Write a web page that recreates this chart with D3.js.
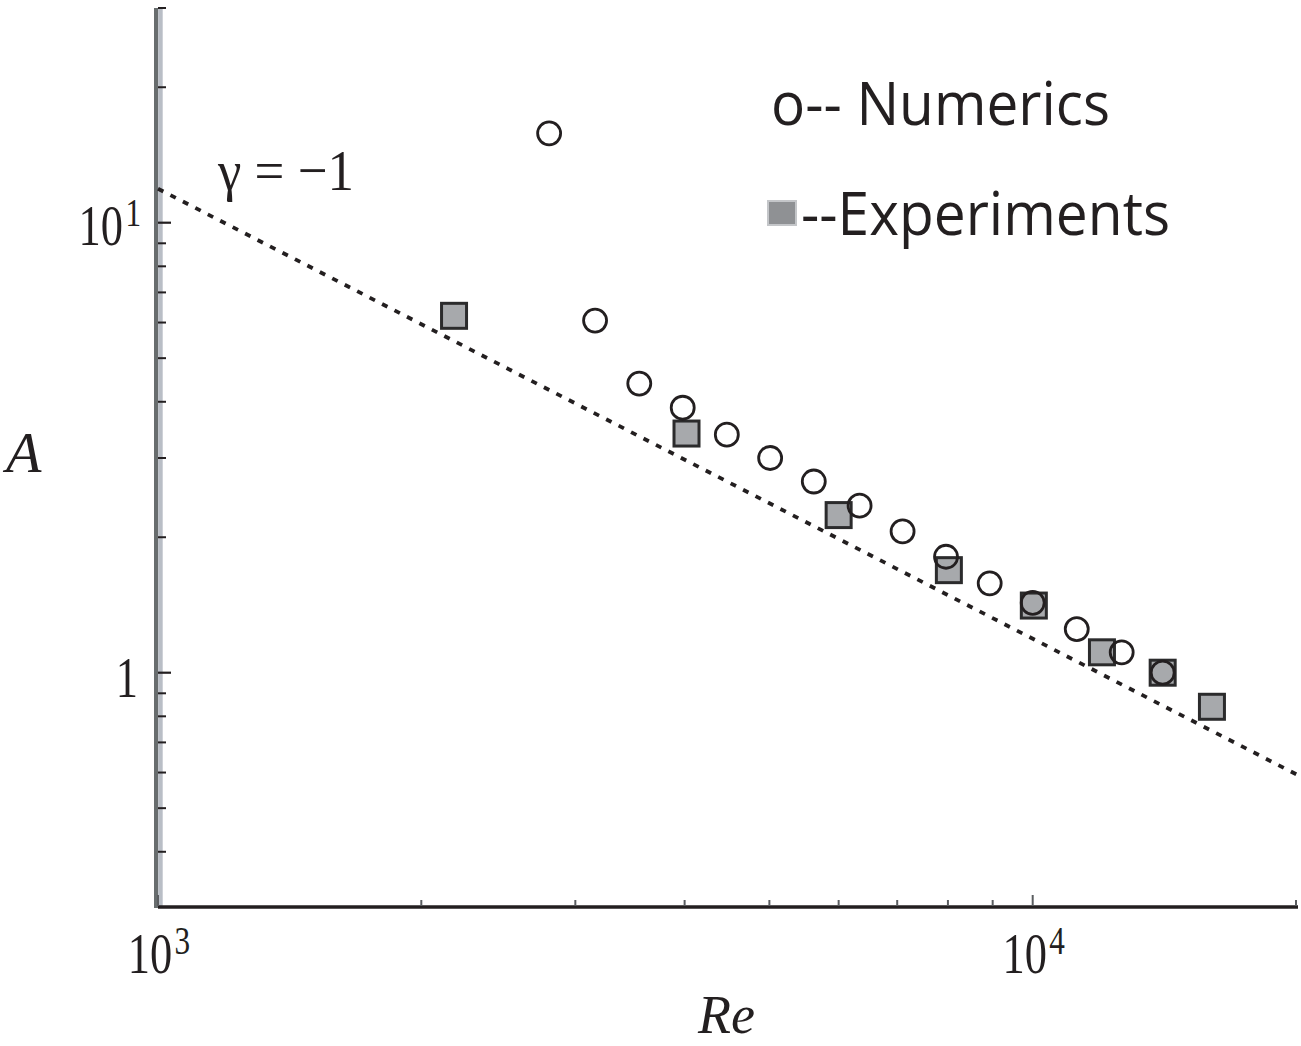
<!DOCTYPE html>
<html>
<head>
<meta charset="utf-8">
<script src="https://cdn.jsdelivr.net/npm/d3@7"></script>
<style>
  html, body { margin: 0; padding: 0; background: #ffffff; }
  svg { display: block; }
</style>
</head>
<body>
<svg id="chart" width="1301" height="1046"></svg>
<script>
// Amplitude A versus Reynolds number Re (log-log)
const numericsRe = [2800, 3160, 3550, 3980, 4470, 5010, 5620, 6340, 7100, 7960, 8930, 10000, 11230, 12640, 14080];
const numericsA  = [15.8, 6.06, 4.39, 3.88, 3.38, 3.00, 2.66, 2.35, 2.06, 1.81, 1.58, 1.43, 1.25, 1.11, 1.00];

const experimentsRe = [2180, 4020, 6000, 8020, 10030, 12000, 14080, 16030];
const experimentsA  = [6.21, 3.40, 2.24, 1.69, 1.41, 1.11, 1.00, 0.84];

// Reference power law with slope gamma = -1 (end points)
const fitRe = [1000, 20150];
const fitA  = [11.9, 0.5906];

const xMajor = [1000, 10000];
const xMajorExp = ["3", "4"];
const xMinor = [2000, 3000, 4000, 5000, 6000, 7000, 8000, 9000, 20000];
const yMajor = [1, 10];
const yMinor = [0.4, 0.5, 0.6, 0.7, 0.8, 0.9, 2, 3, 4, 5, 6, 7, 8, 9, 20, 30];

const ink = "#231f20";
const serif = "Liberation Serif, Times New Roman, serif";
const svg = d3.select("#chart");

const x = d3.scaleLog().domain([1000, 20000]).range([158, 1296]);
const y = d3.scaleLog().domain([0.3, 30]).range([908, 8]);

// ---- axes ----
// vertical axis: dark rule with a light inner band
svg.append("rect").attr("x", 154).attr("y", y(30)).attr("width", 4.3)
  .attr("height", y(0.3) - y(30)).attr("fill", "#686d6e");
svg.append("rect").attr("x", 158.3).attr("y", y(30)).attr("width", 4.4)
  .attr("height", y(0.3) - y(30)).attr("fill", "#b9bec6");

// horizontal axis
svg.append("line").attr("x1", 158).attr("x2", 1298)
  .attr("y1", y(0.3) - 1).attr("y2", y(0.3) - 1)
  .attr("stroke", ink).attr("stroke-width", 3.5);

// y ticks (inward)
svg.selectAll("line.ymin").data(yMinor).join("line")
  .attr("x1", 158).attr("x2", 166)
  .attr("y1", d => y(d)).attr("y2", d => y(d))
  .attr("stroke", ink).attr("stroke-width", 2);
svg.selectAll("line.ymaj").data(yMajor).join("line")
  .attr("x1", 158).attr("x2", 171)
  .attr("y1", d => y(d)).attr("y2", d => y(d))
  .attr("stroke", ink).attr("stroke-width", 2.2);

// x ticks (inward)
svg.selectAll("line.xmin").data(xMinor).join("line")
  .attr("x1", d => x(d)).attr("x2", d => x(d))
  .attr("y1", 900).attr("y2", 906)
  .attr("stroke", "#5a5d60").attr("stroke-width", 2);
svg.selectAll("line.xmaj").data(xMajor).join("line")
  .attr("x1", d => x(d)).attr("x2", d => x(d))
  .attr("y1", 895).attr("y2", 906)
  .attr("stroke", "#5a5d60").attr("stroke-width", 2);

// power-of-ten labels: "10" with a raised exponent, slightly condensed serif
function powerLabel(g, exp) {
  const t = g.append("text")
    .attr("font-family", serif)
    .attr("fill", ink)
    .attr("font-size", 57);
  t.append("tspan").text("10");
  t.append("tspan").attr("dx", 3).attr("dy", -19).attr("font-size", 40).text(exp);
  return t;
}

xMajor.forEach((v, i) => {
  const g = svg.append("g").attr("transform", `translate(${x(v) + 1},973) scale(0.78,1)`);
  powerLabel(g, xMajorExp[i]).attr("text-anchor", "middle");
});

// y labels
{
  const g = svg.append("g").attr("transform", `translate(141,${y(10) + 22}) scale(0.78,1)`);
  powerLabel(g, "1").attr("text-anchor", "end");
  svg.append("g").attr("transform", `translate(138,${y(1) + 24}) scale(0.78,1)`)
    .append("text")
    .attr("font-family", serif)
    .attr("font-size", 57).attr("fill", ink).attr("text-anchor", "end").text("1");
}

// axis titles
svg.append("text").attr("x", 6).attr("y", 472)
  .attr("font-family", serif)
  .attr("font-style", "italic").attr("font-size", 58).attr("fill", ink).text("A");
svg.append("text").attr("x", 698).attr("y", 1033)
  .attr("font-family", serif)
  .attr("font-style", "italic").attr("font-size", 54).attr("fill", ink).text("Re");

// ---- reference line gamma = -1 ----
const line = d3.line().x(d => x(d[0])).y(d => y(d[1]));
svg.append("path")
  .datum(fitRe.map((r, i) => [r, fitA[i]]))
  .attr("d", line)
  .attr("fill", "none")
  .attr("stroke", ink)
  .attr("stroke-width", 3.8)
  .attr("stroke-dasharray", "6,8");

svg.append("text").attr("x", 218).attr("y", 190)
  .attr("font-family", serif)
  .attr("font-size", 58).attr("fill", ink)
  .attr("textLength", 136).attr("lengthAdjust", "spacingAndGlyphs")
  .text("γ = −1");

// ---- experiments (grey squares) ----
const sq = 25;
svg.selectAll("rect.exp")
  .data(experimentsRe.map((r, i) => [r, experimentsA[i]]))
  .join("rect")
  .attr("x", d => x(d[0]) - sq / 2)
  .attr("y", d => y(d[1]) - sq / 2)
  .attr("width", sq).attr("height", sq)
  .attr("fill", "#a7a9ac")
  .attr("stroke", "#2b2b2c")
  .attr("stroke-width", 3);

// ---- numerics (open circles) ----
svg.selectAll("circle.num")
  .data(numericsRe.map((r, i) => [r, numericsA[i]]))
  .join("circle")
  .attr("cx", d => x(d[0]))
  .attr("cy", d => y(d[1]))
  .attr("r", 11.5)
  .attr("fill", "none")
  .attr("stroke", ink)
  .attr("stroke-width", 2.8);

// ---- legend ----
svg.append("text").attr("x", 771).attr("y", 125)
  .attr("font-family", "Open Sans, Noto Sans, sans-serif")
  .attr("font-size", 60).attr("fill", ink)
  .attr("textLength", 339).attr("lengthAdjust", "spacingAndGlyphs")
  .text("o-- Numerics");
svg.append("rect").attr("x", 768).attr("y", 201).attr("width", 28).attr("height", 24)
  .attr("fill", "#8f9194").attr("stroke", "#c4c6c9").attr("stroke-width", 2);
svg.append("text").attr("x", 801).attr("y", 235)
  .attr("font-family", "Open Sans, Noto Sans, sans-serif")
  .attr("font-size", 60).attr("fill", ink)
  .attr("textLength", 369).attr("lengthAdjust", "spacingAndGlyphs")
  .text("--Experiments");
</script>
</body>
</html>
